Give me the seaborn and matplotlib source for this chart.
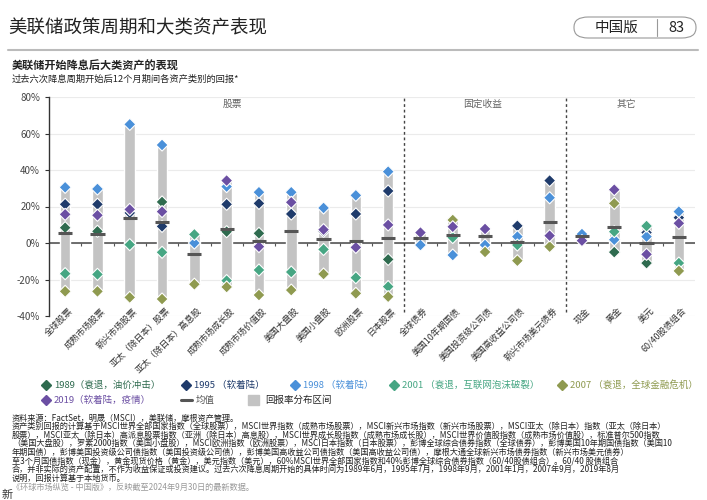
import numpy as np
import pandas as pd
import matplotlib
matplotlib.use("Agg")
import matplotlib.pyplot as plt
import matplotlib.transforms as mtransforms
from matplotlib.lines import Line2D
from matplotlib.patches import FancyBboxPatch, Rectangle
import seaborn as sns

sns.set_style("white")
plt.rcParams['font.family'] = ['Noto Sans CJK SC', 'DejaVu Sans']
plt.rcParams['axes.unicode_minus'] = False

# categories
assets = ['全球股票', '成熟市场股票', '新兴市场股票', '亚太（除日本）股票', '亚太（除日本）高息股',
          '成熟市场成长股', '成熟市场价值股', '美国大盘股', '美国小盘股', '欧洲股票', '日本股票',
          '全球债券', '美国10年期国债', '美国投资级公司债', '美国高收益公司债', '新兴市场美元债券',
          '现金', '黄金', '美元', '60/40股债组合']

nan = np.nan
# 12-month returns (%) after each first cut
r1989 = [8.4, 6.4, nan, 22.5, nan, 6.2, 5.3, nan, nan, nan, -9.0,
         nan, nan, nan, nan, nan, nan, -5.0, -11.0, nan]
r1995 = [21.2, 21.2, 16.5, 9.1, nan, 21.2, 21.7, 15.9, 6.4, 15.9, 28.5,
         nan, nan, nan, 9.4, 34.2, nan, nan, 5.7, 13.9]
r1998 = [30.5, 29.6, 65.0, 53.7, 0.0, 30.9, 27.8, 27.8, 19.2, 26.1, 39.1,
         -1.1, -6.6, -1.1, 3.5, 24.8, 4.9, 1.8, 3.5, 17.2]
r2001 = [-16.8, -17.2, -0.9, -5.1, 4.7, -20.6, -14.8, -15.9, -3.5, -19.0, -23.9,
         nan, 3.0, nan, -1.1, nan, nan, 6.2, 9.3, -11.0]
r2007 = [-26.5, -26.5, -29.8, -30.7, -22.6, -24.1, -28.5, -25.8, -17.0, -27.6, -29.4,
         nan, 12.6, -4.9, -9.7, -2.0, nan, 21.7, nan, -15.3]
r2019 = [15.7, 15.2, 18.4, 17.2, nan, 34.2, -2.0, 22.3, 7.3, -2.4, 9.9,
         5.7, 8.9, 7.7, nan, 4.0, 1.3, 29.2, -6.2, 10.8]
mean_ret = [5.3, 4.7, 13.9, 11.3, -6.2, 7.9, 1.3, 6.8, 2.4, 1.1, 2.6,
            2.9, 4.6, 3.8, 0.7, 11.7, 3.8, 9.0, 0.0, 3.1]

episodes = ['1989（衰退，油价冲击）', '1995 （软着陆）', '1998 （软着陆）',
            '2001 （衰退，互联网泡沫破裂）', '2007 （衰退，全球金融危机）', '2019（软着陆，疫情）']
ep_colors = ['#2f6b4f', '#1f3b6b', '#4a90d9', '#46a683', '#8f9a50', '#6b4fa3']
sections = ['股票', '固定收益', '其它']

# long table
rows = []
for ep, vals in zip(episodes, [r1989, r1995, r1998, r2001, r2007, r2019]):
    for i, v in enumerate(vals):
        rows.append({'asset': assets[i], 'pos': i, 'episode': ep, 'ret': v})
df = pd.DataFrame(rows).dropna()
rng = df.groupby('pos')['ret'].agg(['min', 'max']).reset_index()

fig = plt.figure(figsize=(7.07, 5.0), dpi=100)
ax = fig.add_axes([49 / 707, 1 - 316 / 500, (695 - 49) / 707, (316 - 97) / 500])

# range bars
ax.bar(rng['pos'], rng['max'] - rng['min'], bottom=rng['min'], width=0.33,
       color='#c3c3c3', zorder=2)

sns.scatterplot(data=df, x='pos', y='ret', hue='episode', hue_order=episodes,
                palette=dict(zip(episodes, ep_colors)), marker='D', s=38,
                edgecolor='white', linewidth=0.8, legend=False, zorder=3, ax=ax)

# mean
xpos = np.arange(len(assets))
ax.hlines(mean_ret, xpos - 0.22, xpos + 0.22, color='#555555', lw=2.2, zorder=4)

# zero line with small separators
ax.axhline(0, color='#555555', lw=1.2, zorder=1)
ax.vlines(xpos[:-1] + 0.5, -1.8, 0, color='#555555', lw=0.8, zorder=1)

# section dividers
for d in [10.5, 15.5]:
    ax.axvline(d, ymin=0.02, ymax=1, color='#444444', lw=1.0, ls=(0, (2, 2)), zorder=1)
ax.text(5.17, 76, sections[0], ha='center', va='center', fontsize=7, color='#666666')
ax.text(12.94, 76, sections[1], ha='center', va='center', fontsize=7, color='#666666')
ax.text(17.37, 76, sections[2], ha='center', va='center', fontsize=7, color='#666666')

ax.set_xlim(-0.5, len(assets) - 0.5)
ax.set_ylim(-40, 80)
ax.set_yticks([-40, -20, 0, 20, 40, 60, 80])
ax.set_yticklabels([f'{v}%' for v in [-40, -20, 0, 20, 40, 60, 80]], fontsize=7, color='#444444')
ax.set_xticks(xpos)
ax.tick_params(axis='x', length=0, pad=3)
ax.tick_params(axis='y', length=3, color='#333333', direction='out', left=True)
ax.set_xticklabels(assets, rotation=45, ha='right', rotation_mode='anchor',
                   fontsize=6.4, color='#333333')
# nudge the rotated labels up so they start at the axis bottom
shift = mtransforms.ScaledTranslation(3 / 100, 14 / 100, fig.dpi_scale_trans)
for lab in ax.get_xticklabels():
    lab.set_transform(lab.get_transform() + shift)
ax.yaxis.grid(True, color='#ebebeb', lw=0.8)
ax.set_axisbelow(True)
for s in ['top', 'right', 'bottom']:
    ax.spines[s].set_visible(False)
ax.spines['left'].set_color('#333333')
ax.spines['left'].set_linewidth(1.0)
ax.set_xlabel('')
ax.set_ylabel('')

# header
def fx(px):
    return px / 707

def fy(py):
    return 1 - py / 500

fig.text(fx(8), fy(28), '美联储政策周期和大类资产表现', fontsize=13.3, color='#222222', va='center')
box = FancyBboxPatch((fx(574), fy(38)), fx(122), 21 / 500, boxstyle='round,pad=0,rounding_size=0.02',
                     transform=fig.transFigure, fill=False, edgecolor='#999999', lw=0.8)
fig.add_artist(box)
fig.add_artist(Line2D([fx(657), fx(657)], [fy(19), fy(36)], transform=fig.transFigure,
                      color='#999999', lw=0.8))
fig.text(fx(617), fy(28), '中国版', fontsize=10.5, ha='center', va='center', color='#222222')
fig.text(fx(676), fy(28), '83', fontsize=10.5, ha='center', va='center', color='#222222')
fig.add_artist(Line2D([fx(8), fx(698)], [fy(50), fy(50)], transform=fig.transFigure,
                      color='#bbbbbb', lw=1.5))
fig.text(fx(12), fy(66), '美联储开始降息后大类资产的表现', fontsize=8, fontweight='bold',
         color='#222222', va='center')
fig.text(fx(12), fy(79), '过去六次降息周期开始后12个月期间各资产类别的回报*', fontsize=6.7,
         color='#222222', va='center')

# legend
leg_row1 = 385
leg_row2 = 400
marker_x = [46, 186, 295, 394, 562]
for i in range(5):
    fig.add_artist(Line2D([fx(marker_x[i])], [fy(leg_row1)], transform=fig.transFigure,
                          marker='D', ms=5.5, color=ep_colors[i], lw=0))
    fig.text(fx(marker_x[i] + 8), fy(leg_row1), episodes[i], fontsize=6.8,
             color=ep_colors[i], va='center')
fig.add_artist(Line2D([fx(46)], [fy(leg_row2)], transform=fig.transFigure,
                      marker='D', ms=5.5, color=ep_colors[5], lw=0))
fig.text(fx(54), fy(leg_row2), episodes[5], fontsize=6.8, color=ep_colors[5], va='center')
fig.add_artist(Line2D([fx(181), fx(192)], [fy(leg_row2), fy(leg_row2)], transform=fig.transFigure,
                      color='#555555', lw=2.2))
fig.text(fx(196), fy(leg_row2), '均值', fontsize=6.8, color='#555555', va='center')
fig.add_artist(Rectangle((fx(248), fy(405)), fx(11), 10 / 500, transform=fig.transFigure,
                         color='#c3c3c3'))
fig.text(fx(265), fy(leg_row2), '回报率分布区间', fontsize=6.8, color='#222222', va='center')

# footnotes
notes = [
    '资料来源：FactSet，明晟（MSCI），美联储，摩根资产管理。',
    '资产类别回报的计算基于MSCI世界全部国家指数（全球股票），MSCI世界指数（成熟市场股票），MSCI新兴市场指数（新兴市场股票），MSCI亚太（除日本）指数（亚太（除日本）',
    '股票），MSCI亚太（除日本）高派息股票指数（亚洲（除日本）高息股），MSCI世界成长股指数（成熟市场成长股），MSCI世界价值股指数（成熟市场价值股），标准普尔500指数',
    '（美国大盘股），罗素2000指数（美国小盘股），MSCI欧洲指数（欧洲股票），MSCI日本指数（日本股票），彭博全球综合债券指数（全球债券），彭博美国10年期国债指数（美国10',
    '年期国债），彭博美国投资级公司债指数（美国投资级公司债），彭博美国高收益公司债指数（美国高收益公司债），摩根大通全球新兴市场债券指数（新兴市场美元债券）',
    '至3个月国债指数（现金），黄金现货价格（黄金），美元指数（美元），60%MSCI世界全部国家指数和40%彭博全球综合债券指数（60/40股债组合）。60/40 股债组合',
    '合，并非实际的资产配置，不作为收益保证或投资建议。过去六次降息周期开始的具体时间为1989年6月，1995年7月，1998年9月，2001年1月，2007年9月，2019年8月',
    '说明，回报计算基于本地货币。',
]
for i, line in enumerate(notes):
    fig.text(fx(12), fy(418 + 8.6 * i), line, fontsize=5.9, color='#222222', va='center')
fig.text(fx(12), fy(487), '《环球市场纵览 - 中国版》，反映截至2024年9月30日的最新数据。',
         fontsize=5.9, color='#999999', va='center')
fig.text(fx(2), fy(495), '新', fontsize=8, color='#333333', va='center')

fig.savefig('out.png', dpi=100)
